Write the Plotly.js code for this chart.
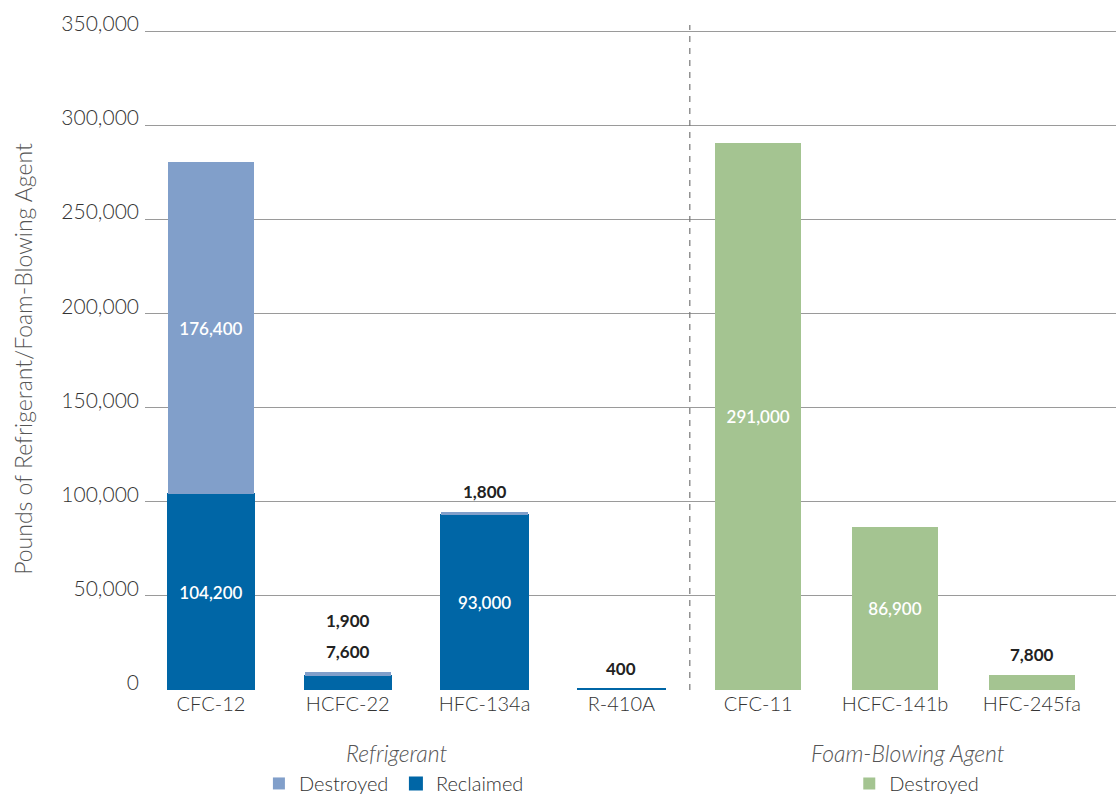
<!DOCTYPE html>
<html>
<head>
<meta charset="utf-8">
<script src="https://cdn.plot.ly/plotly-3.0.1.min.js"></script>
<style>html,body{margin:0;padding:0;background:#fff;}#chart{width:1116px;height:797px;}</style>
</head>
<body>
<div id="chart"></div>
<script>
// ---- data ----
const refrigerants = ["CFC-12", "HCFC-22", "HFC-134a", "R-410A"];
const reclaimed = [104200, 7600, 93000, 400];
const refDestroyed = [176400, 1900, 1800, 0];
const foamAgents = ["CFC-11", "HCFC-141b", "HFC-245fa"];
const foamDestroyed = [291000, 86900, 7800];
const yTicks = [0, 50000, 100000, 150000, 200000, 250000, 300000, 350000];
const groupLabels = ["Refrigerant", "Foam-Blowing Agent"];

const allCats = refrigerants.concat(foamAgents);
const INSIDE_MIN = 50000;
const fmt = v => v.toLocaleString("en-US");
const insideText = arr => arr.map(v => v >= INSIDE_MIN ? fmt(v) : "");

const C_DEST = "#819fca", C_RECL = "#0066a6", C_FOAM = "#a4c491";
const FONT = "Lato, 'Open Sans', sans-serif";

const common = {
  type: "bar", width: 0.63, textposition: "inside", insidetextanchor: "middle",
  textfont: {family: FONT, size: 17, color: "#ffffff", weight: 600},
  hoverinfo: "x+y", cliponaxis: false
};

const traces = [
  Object.assign({}, common, {name: "Reclaimed", x: refrigerants, y: reclaimed,
    text: insideText(reclaimed), marker: {color: C_RECL, line: {color: C_RECL, width: 2}},
    legend: "legend", legendrank: 2}),
  Object.assign({}, common, {name: "Destroyed", x: refrigerants, y: refDestroyed,
    text: insideText(refDestroyed), marker: {color: C_DEST}, legend: "legend", legendrank: 1}),
  Object.assign({}, common, {name: "Destroyed", x: foamAgents, y: foamDestroyed,
    text: insideText(foamDestroyed), marker: {color: C_FOAM}, legend: "legend2"})
];

// outside labels for small segments, stacked above each bar
const annotations = [];
function addOutside(cat, total, vals) {
  let k = 0;
  vals.forEach(v => {
    if (v > 0 && v < INSIDE_MIN) {
      annotations.push({x: cat, y: total, xref: "x", yref: "y", text: fmt(v), showarrow: false,
        yanchor: "bottom", yshift: 8 + k * 31,
        font: {family: FONT, size: 17, color: "#222", weight: 700}});
      k++;
    }
  });
}
refrigerants.forEach((c, i) => addOutside(c, reclaimed[i] + refDestroyed[i], [reclaimed[i], refDestroyed[i]]));
foamAgents.forEach((c, i) => addOutside(c, foamDestroyed[i], [foamDestroyed[i]]));

// group labels
[0.2595, 0.786].forEach((px, i) => {
  annotations.push({x: px, y: -0.095, xref: "paper", yref: "paper", text: "<i>" + groupLabels[i] + "</i>",
    showarrow: false, xanchor: "center", yanchor: "middle",
    font: {family: FONT, size: 23, color: "#555", weight: 300}});
});

const layout = {
  width: 1116, height: 797,
  margin: {l: 145, r: 0, t: 28, b: 107, pad: 0},
  paper_bgcolor: "#fff", plot_bgcolor: "#fff",
  barmode: "stack",
  font: {family: FONT, color: "#333"},
  xaxis: {type: "category", categoryorder: "array", categoryarray: allCats, automargin: false,
    range: [-0.482, 6.615], showgrid: false, zeroline: false, showline: false, ticks: "",
    tickfont: {family: FONT, size: 20, color: "#333", weight: 300}, fixedrange: true},
  yaxis: {range: [0, 352000], tickvals: yTicks, tickformat: ",d", showgrid: true, automargin: false,
    gridcolor: "#9a9a9a", gridwidth: 1, zeroline: false, showline: false, ticks: "",
    ticklabelposition: "outside top", ticklabelstandoff: 5, ticklabelshift: 7,
    tickfont: {family: FONT, size: 21, color: "#333", weight: 300},
    title: {text: "Pounds of Refrigerant/Foam-Blowing Agent", standoff: 22,
      font: {family: FONT, size: 23, color: "#555", weight: 300}}, fixedrange: true},
  shapes: [{type: "line", xref: "x", yref: "paper", x0: 3.5, x1: 3.5, y0: 0, y1: 1.0045,
    line: {color: "#777", width: 1.2, dash: "6px,6px"}}],
  annotations: annotations,
  showlegend: true,
  legend: {orientation: "h", xref: "container", yref: "container", x: 0.232, xanchor: "left",
    y: 0.017, yanchor: "middle",
    bgcolor: "rgba(0,0,0,0)", traceorder: "normal", entrywidth: 92,
    font: {family: FONT, size: 20, color: "#333", weight: 300}},
  legend2: {orientation: "h", xref: "container", yref: "container", x: 0.761, xanchor: "left",
    y: 0.017, yanchor: "middle",
    bgcolor: "rgba(0,0,0,0)",
    font: {family: FONT, size: 20, color: "#333", weight: 300}}
};

Plotly.newPlot("chart", traces, layout, {displayModeBar: false, staticPlot: false});
</script>
</body>
</html>
